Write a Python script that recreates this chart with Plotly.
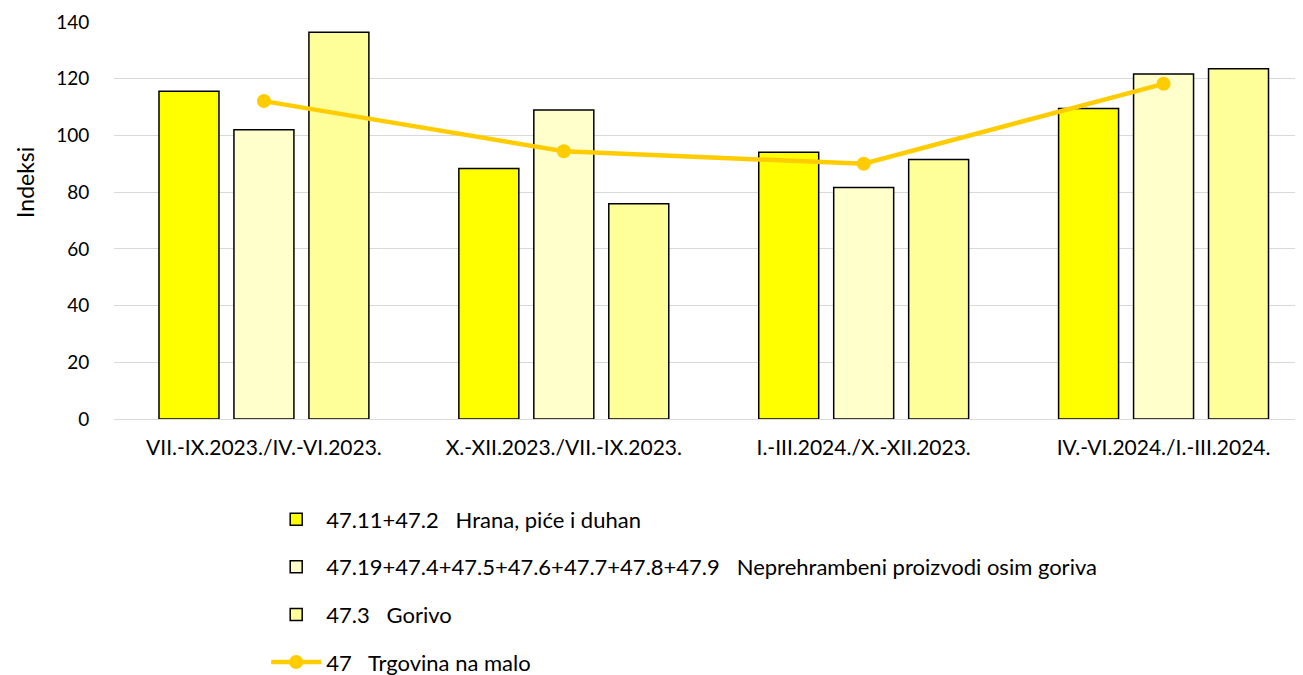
import plotly.graph_objects as go

categories = ["VII.-IX.2023./IV.-VI.2023.", "X.-XII.2023./VII.-IX.2023.",
              "I.-III.2024./X.-XII.2023.", "IV.-VI.2024./I.-III.2024."]
hrana = [115.6, 88.3, 94.1, 109.5]
neprehrambeni = [102.0, 109.0, 81.6, 121.7]
gorivo = [136.4, 75.9, 91.5, 123.5]
trgovina = [112.1, 94.4, 90.0, 118.2]

names = ["47.11+47.2   Hrana, piće i duhan",
         "47.19+47.4+47.5+47.6+47.7+47.8+47.9   Neprehrambeni proizvodi osim goriva",
         "47.3   Gorivo",
         "47   Trgovina na malo"]
y_title = "Indeksi"
bar_colors = ["#FFFF00", "#FFFFCC", "#FFFF99"]
line_color = "#FFCC00"
font_family = "Lato, Open Sans, sans-serif"

fig = go.Figure()
for i, (vals, col) in enumerate(zip([hrana, neprehrambeni, gorivo], bar_colors)):
    fig.add_trace(go.Bar(x=categories, y=vals, name=names[i], legendgroup=f"g{i}",
                         marker=dict(color=col, line=dict(color="black", width=1.5))))
fig.add_trace(go.Scatter(x=categories, y=trgovina, name=names[3], legendgroup="g3",
                         mode="lines+markers",
                         line=dict(color=line_color, width=4.5),
                         marker=dict(color=line_color, size=14)))

fig.add_annotation(text=y_title, textangle=-90, xref="paper", yref="paper",
                   x=-0.0749, y=0.597, xanchor="center", yanchor="middle",
                   showarrow=False, font=dict(size=23, color="black"))

fig.update_layout(
    width=1295, height=667,
    margin=dict(l=106, r=0, t=14, b=256, autoexpand=False),
    paper_bgcolor="white", plot_bgcolor="white",
    font=dict(family=font_family, size=21, color="black"),
    barmode="group", bargap=0.25, bargroupgap=0.2,
    showlegend=True,
    legend=dict(x=0.128, y=-0.2, xanchor="left", yanchor="top",
                orientation="v", traceorder="grouped", tracegroupgap=16,
                font=dict(size=22), itemwidth=50),
    xaxis=dict(range=[-0.5, 3.465], showgrid=False, ticks="outside", ticklen=10,
               tickcolor="rgba(0,0,0,0)", showline=False, tickfont=dict(size=21),
               automargin=False),
    yaxis=dict(range=[0, 140], dtick=20, showgrid=True, gridcolor="#D9D9D9",
               gridwidth=1.3, zeroline=True, zerolinecolor="#D9D9D9", zerolinewidth=1.3,
               ticks="outside", ticklen=20, tickcolor="rgba(0,0,0,0)",
               tickfont=dict(size=19), automargin=False),
)

fig.write_html("out.html")
